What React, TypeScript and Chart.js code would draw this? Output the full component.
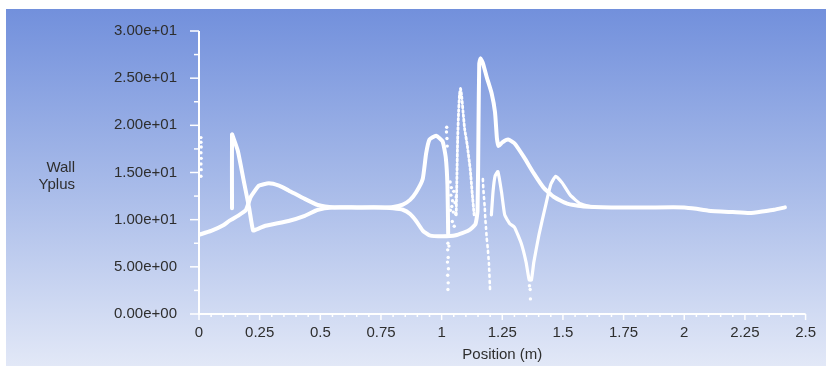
import React, { useEffect, useRef } from "react";
import { Chart, registerables } from "chart.js";
Chart.register(...registerables);

// ---- tick labels ----
const xTickValues = [0, 0.25, 0.5, 0.75, 1, 1.25, 1.5, 1.75, 2, 2.25, 2.5];
const xTickLabels = ["0", "0.25", "0.5", "0.75", "1", "1.25", "1.5", "1.75", "2", "2.25", "2.5"];
const yTickValues = [0, 5, 10, 15, 20, 25, 30];
const yTickLabels = ["0.00e+00", "5.00e+00", "1.00e+01", "1.50e+01", "2.00e+01", "2.50e+01", "3.00e+01"];
const xTitle = "Position (m)";
const yTitleLines = ["Wall", "Yplus"];

// ---- curve A: starts at 8.4, bump 13.8, flat, peak 19 near 0.98 ----
const curveAX = [0, 0.05, 0.1, 0.126, 0.16, 0.193, 0.213, 0.247, 0.288, 0.33, 0.369, 0.436, 0.49, 0.558, 0.65, 0.75, 0.8, 0.84, 0.87, 0.895, 0.922, 0.936, 0.95, 0.977, 1.004, 1.017, 1.024, 1.027];
const curveAY = [8.4, 8.8, 9.4, 9.9, 10.4, 11.0, 12.4, 13.6, 13.85, 13.6, 13.1, 12.2, 11.55, 11.3, 11.3, 11.3, 11.35, 11.6, 12.1, 12.9, 14.3, 17.0, 18.5, 18.9, 18.3, 16.6, 13.6, 8.5];

// ---- curve B: spike 19 at 0.136, dip, flat, dip 8.3, main peak 27, tail ----
const curveBX = [0.136, 0.136, 0.14, 0.16, 0.186, 0.207, 0.223, 0.24, 0.274, 0.369, 0.436, 0.49, 0.55, 0.65, 0.75, 0.8, 0.84, 0.87, 0.895, 0.922, 0.95, 1.004, 1.058, 1.111, 1.139, 1.148, 1.152, 1.155, 1.16, 1.17, 1.186, 1.206, 1.22, 1.228, 1.235, 1.25, 1.274, 1.3, 1.34, 1.38, 1.42, 1.463, 1.517, 1.584, 1.7, 1.85, 2.0, 2.05, 2.1, 2.2, 2.27, 2.33, 2.37, 2.415];
const curveBY = [11.2, 19.05, 18.8, 17.3, 13.9, 11.2, 8.85, 9.0, 9.35, 9.86, 10.4, 11.05, 11.3, 11.3, 11.3, 11.2, 11.05, 10.6, 9.86, 8.85, 8.34, 8.24, 8.34, 8.85, 9.5, 10.9, 20.0, 26.5, 27.1, 26.6, 25.1, 23.4, 21.4, 18.6, 17.8, 18.2, 18.5, 18.1, 16.6, 14.9, 13.4, 12.4, 11.7, 11.4, 11.3, 11.3, 11.3, 11.15, 10.95, 10.8, 10.7, 10.9, 11.05, 11.3];

// ---- curve C: lower right, peak 15.1, dip, peak 14.6 ----
const curveCX = [1.205, 1.212, 1.22, 1.232, 1.247, 1.26, 1.28, 1.3, 1.328, 1.348, 1.361, 1.37, 1.38, 1.402, 1.429, 1.45, 1.47, 1.497, 1.53, 1.571, 1.62];
const curveCY = [10.5, 13.0, 14.6, 15.1, 12.9, 10.5, 9.6, 9.2, 7.5, 5.5, 3.6, 3.6, 5.5, 8.5, 11.55, 13.75, 14.6, 13.9, 12.6, 11.7, 11.35];

// ---- dotted spike near 1.08 (peak 24) ----
const spikeX = [1.06, 1.063, 1.066, 1.07, 1.074, 1.078, 1.083, 1.088, 1.095, 1.105, 1.118, 1.126, 1.134];
const spikeY = [10.5, 14.5, 18.5, 21.5, 23.3, 23.9, 23.0, 21.5, 19.6, 18.0, 15.3, 12.8, 10.5];

// ---- dotted column near 1.18 ----
const columnX = [1.17, 1.172, 1.175, 1.178, 1.18, 1.183, 1.186, 1.19, 1.195, 1.2];
const columnY = [14.3, 13.2, 12.2, 11.2, 10.1, 9.1, 8.0, 7.0, 5.3, 2.3];

// ---- loose dots ----
const dotsX = [0.008, 0.009, 0.008, 0.009, 0.008, 0.009, 0.008, 0.008,
  1.021, 1.02, 1.022, 1.023, 1.026, 1.025, 1.027, 1.024, 1.028, 1.025, 1.027, 1.026, 1.03,
  1.035, 1.04, 1.038, 1.045, 1.042, 1.05, 1.055, 1.048, 1.06, 1.058, 1.036, 1.044, 1.052,
  1.365, 1.366, 1.362];
const dotsY = [14.6, 15.3, 15.9, 16.5, 17.1, 17.7, 18.2, 18.7,
  19.8, 19.3, 18.6, 17.8, 7.5, 6.8, 6.0, 5.5, 4.8, 4.1, 3.3, 2.6, 7.2,
  14.0, 13.4, 12.6, 12.0, 11.4, 13.0, 11.8, 10.8, 12.4, 10.6, 11.0, 9.8, 9.3,
  2.6, 1.6, 3.0];

const pts = (xs: number[], ys: number[]) => xs.map((x, i) => ({ x, y: ys[i] }));

const lineDs = (xs: number[], ys: number[], width: number, dash: number[] = []) => ({
  data: pts(xs, ys),
  showLine: true,
  borderColor: "#ffffff",
  borderWidth: width,
  borderDash: dash,
  borderCapStyle: "round",
  borderJoinStyle: "round",
  pointRadius: 0,
  tension: 0.15,
});

const FONT = { family: "'Liberation Sans', Arial, sans-serif", size: 15 };
const TEXT = "#2e2e2e";

const bgPlugin = {
  id: "bg",
  beforeDraw(chart: any) {
    const { ctx, width, height } = chart;
    ctx.save();
    ctx.fillStyle = "#ffffff";
    ctx.fillRect(0, 0, width, height);
    const g = ctx.createLinearGradient(0, 9, 0, height);
    g.addColorStop(0, "#7290dc");
    g.addColorStop(0.5, "#a8bbe9");
    g.addColorStop(1, "#e2e8f7");
    ctx.fillStyle = g;
    ctx.fillRect(6, 9, width - 6, height - 9);
    ctx.restore();
  },
  beforeDatasetsDraw(chart: any) {
    const { ctx, chartArea, scales } = chart;
    const { left, right, top, bottom } = chartArea;
    const xs = scales.x, ys = scales.y;
    ctx.save();
    ctx.strokeStyle = "#ffffff";
    ctx.lineWidth = 2;
    ctx.beginPath();
    ctx.moveTo(left, top);
    ctx.lineTo(left, bottom);
    ctx.lineTo(right, bottom);
    ctx.stroke();
    ctx.lineWidth = 1.5;
    for (let k = 0; k <= 12; k++) {
      const v = k * 2.5;
      const py = ys.getPixelForValue(v);
      const len = k % 2 === 0 ? 9 : 5;
      ctx.beginPath();
      ctx.moveTo(left - len, py);
      ctx.lineTo(left, py);
      ctx.stroke();
    }
    for (let k = 0; k <= 50; k++) {
      const v = k * 0.05;
      const px = xs.getPixelForValue(v);
      const len = k % 5 === 0 ? 6 : 3;
      ctx.beginPath();
      ctx.moveTo(px, bottom);
      ctx.lineTo(px, bottom + len);
      ctx.stroke();
    }
    // y title (horizontal, two lines)
    ctx.fillStyle = TEXT;
    ctx.font = `${FONT.size}px ${FONT.family}`;
    ctx.textAlign = "right";
    ctx.textBaseline = "middle";
    ctx.fillText(yTitleLines[0], 75, 168);
    ctx.fillText(yTitleLines[1], 75, 185);
    ctx.restore();
  },
};

export default function App() {
  const ref = useRef<HTMLCanvasElement>(null);
  useEffect(() => {
    document.body.style.margin = "0";
    const chart = new Chart(ref.current as HTMLCanvasElement, {
      type: "scatter",
      data: {
        datasets: [
          lineDs(curveAX, curveAY, 4) as any,
          lineDs(curveBX, curveBY, 4) as any,
          lineDs(curveCX, curveCY, 3.2) as any,
          lineDs(spikeX, spikeY, 2.8, [2, 2.5]) as any,
          lineDs(columnX, columnY, 2.6, [2, 4]) as any,
          {
            data: pts(dotsX, dotsY),
            showLine: false,
            pointRadius: 1.7,
            pointBackgroundColor: "#ffffff",
            pointBorderWidth: 0,
          } as any,
        ],
      },
      options: {
        animation: false,
        responsive: false,
        events: [],
        layout: { padding: { top: 18, right: 10, left: 0, bottom: 0 } },
        plugins: { legend: { display: false }, tooltip: { enabled: false } },
        scales: {
          x: {
            type: "linear",
            min: 0,
            max: 2.5,
            grid: { display: false, drawTicks: false },
            border: { display: false },
            afterBuildTicks: (s: any) => { s.ticks = xTickValues.map((v) => ({ value: v })); },
            afterFit: (s: any) => { s.height = 52; },
            ticks: {
              color: TEXT,
              font: FONT,
              padding: 10,
              autoSkip: false,
              maxRotation: 0,
              callback: (_v: any, i: number) => xTickLabels[i],
            },
            title: { display: true, text: xTitle, color: TEXT, font: FONT, padding: { top: 0, bottom: 2 } },
          },
          y: {
            type: "linear",
            min: 0,
            max: 30,
            grid: { display: false, drawTicks: false },
            border: { display: false },
            afterBuildTicks: (s: any) => { s.ticks = yTickValues.map((v) => ({ value: v })); },
            afterFit: (s: any) => { s.width = 199; },
            ticks: {
              color: TEXT,
              font: FONT,
              padding: 22,
              autoSkip: false,
              callback: (_v: any, i: number) => yTickLabels[i],
            },
          },
        },
      } as any,
      plugins: [bgPlugin],
    });
    return () => chart.destroy();
  }, []);
  return (
    <div style={{ width: 826, height: 366 }}>
      <canvas ref={ref} width={826} height={366} style={{ display: "block" }} />
    </div>
  );
}
